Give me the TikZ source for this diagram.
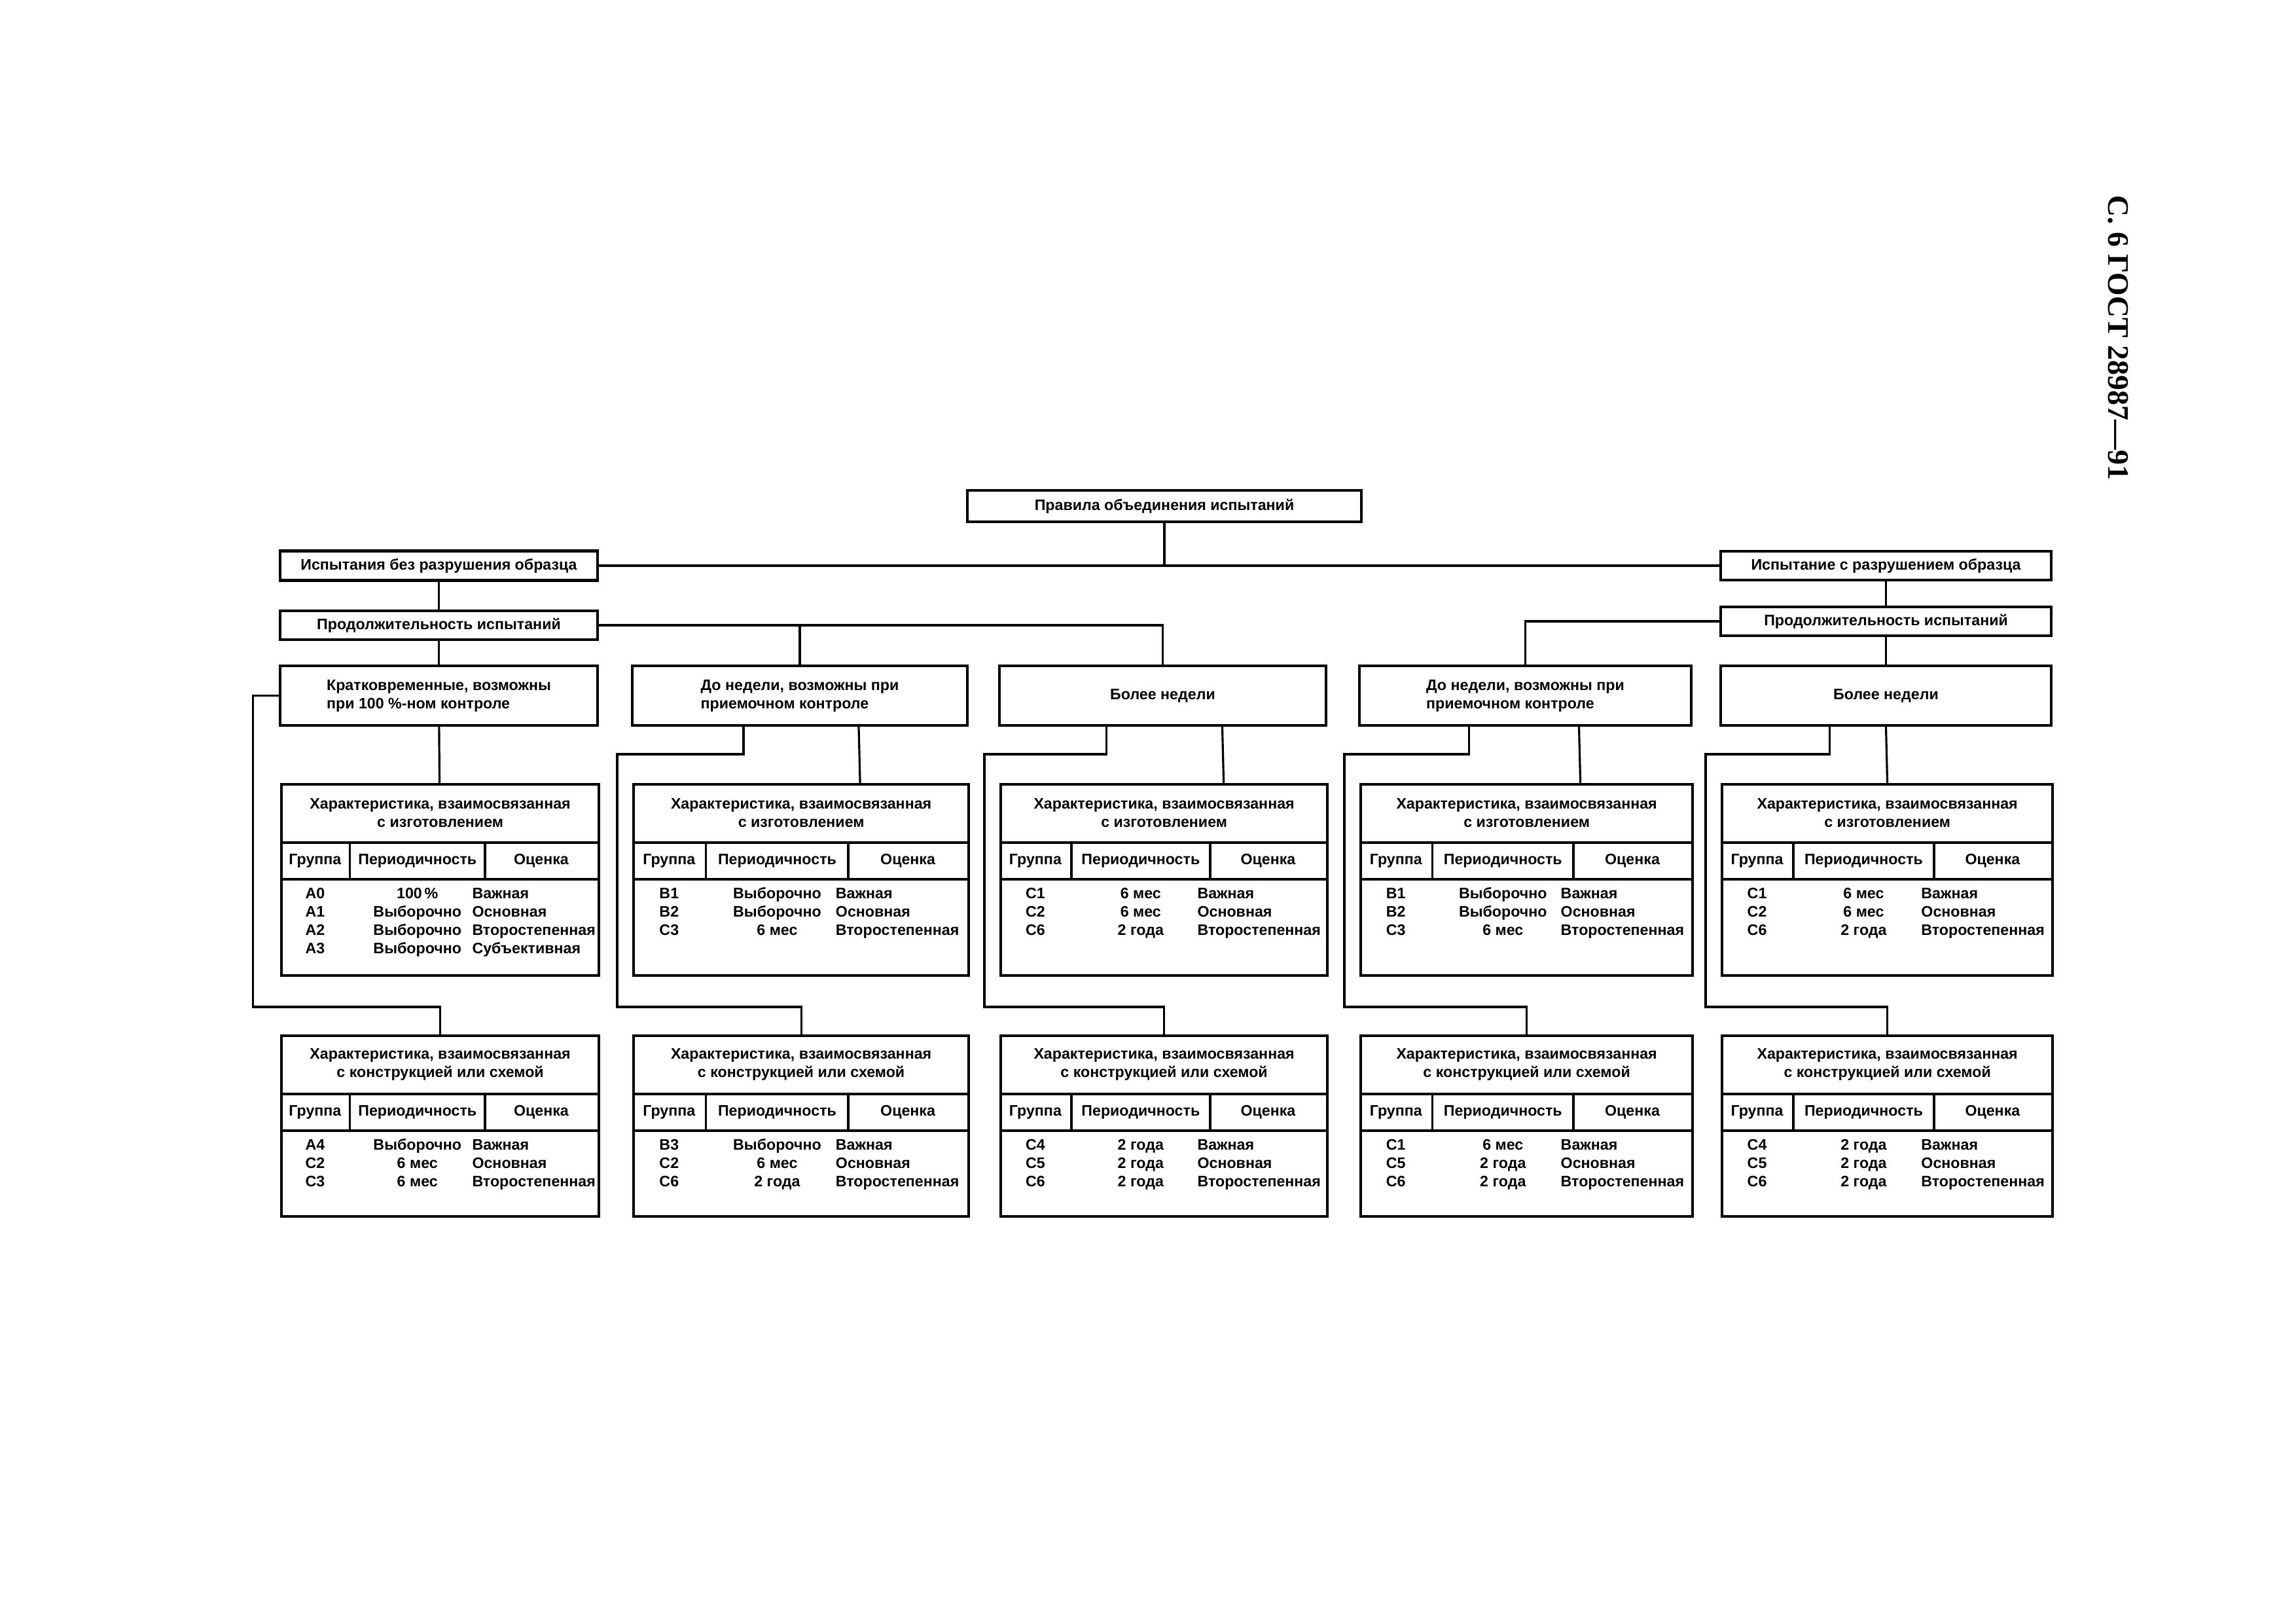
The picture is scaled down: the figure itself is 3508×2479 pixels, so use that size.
\documentclass[tikz,border=0pt]{standalone}
\usepackage{fontspec}
\setmainfont{Liberation Sans}
\newfontfamily\gostserif{Liberation Serif}
\usepackage{tikz}
\usetikzlibrary{positioning,calc}

\tikzset{
    box/.style={draw,line width=1.2pt,inner sep=0pt,align=center,font=\bfseries\fontsize{6.6}{8}\selectfont},
    cell/.style={inner sep=0pt,text height=4.8pt,text depth=1.4pt,font=\bfseries\fontsize{6.6}{8}\selectfont},
    link/.style={line width=0.9pt},
}

% table: name, left, top, width, height, second title line, rows
\newcommand{\chartab}[7]{%
    \node[box,anchor=north west,minimum width=#4*0.01cm,minimum height=#5*0.01cm] (#1) at (#2,#3) {};
    \draw[line width=1.2pt] ($(#1.north west)+(0,91)$) -- ($(#1.north east)+(0,91)$)
        ($(#1.north west)+(0,147)$) -- ($(#1.north east)+(0,147)$);
    \draw[line width=1pt] ($(#1.north west)+(0.22*#4,91)$) -- ++(0,56)
        ($(#1.north west)+(0.645*#4,91)$) -- ++(0,56);
    \node[box,draw=none] (#1-title) at ($(#1.north)+(0,46)$) {Характеристика, взаимосвязанная\\#6};
    \node[cell] (#1-grp) at ($(#1.north west)+(0.11*#4,119)$) {Группа};
    \node[cell] (#1-per) at ($(#1.north west)+(0.4325*#4,119)$) {Периодичность};
    \node[cell] (#1-est) at ($(#1.north west)+(0.8225*#4,119)$) {Оценка};
    \foreach \g/\p/\o [count=\r] in {#7}{
        \pgfmathsetmacro{\yy}{171+(\r-1)*28}
        \node[cell] (#1-g\r) at ($(#1.north west)+(0.11*#4,\yy)$) {\g};
        \node[cell] (#1-p\r) at ($(#1.north west)+(0.4325*#4,\yy)$) {\p};
        \node[cell,anchor=west] (#1-o\r) at ($(#1.north west)+(0.645*#4-20,\yy)$) {\o};
    }
}

\begin{document}
\begin{tikzpicture}[x=0.01cm,y=-0.01cm]
\path[fill=white] (0,0) rectangle (3508,2479);
\useasboundingbox (0,0) rectangle (3508,2479);
\node[rotate=-90,inner sep=0pt,font=\gostserif\bfseries\fontsize{13}{15}\selectfont] (gost) at (3236,516) {С. 6 ГОСТ 28987—91};

\node[box,minimum width=6.02cm,minimum height=0.48cm] (rules) at (1779,773) {Правила объединения испытаний};
\node[box,minimum width=4.85cm,minimum height=0.45cm] (nondestr) at (670.5,864) {Испытания без разрушения образца};
\node[box,minimum width=5.05cm,minimum height=0.44cm] (destr) at (2881.5,864) {Испытание с разрушением образца};
\node[box,minimum width=4.85cm,minimum height=0.44cm] (durL) at (670.5,955) {Продолжительность испытаний};
\node[box,minimum width=5.05cm,minimum height=0.44cm] (durR) at (2881.5,949) {Продолжительность испытаний};

\node[box,align=left,minimum width=4.85cm,minimum height=0.91cm] (k1) at (670.5,1062.5) {Кратковременные, возможны\\при 100 \%-ном контроле};
\node[box,align=left,minimum width=5.12cm,minimum height=0.91cm] (k2) at (1222,1062.5) {До недели, возможны при\\приемочном контроле};
\node[box,minimum width=4.99cm,minimum height=0.91cm] (k3) at (1776.5,1062.5) {Более недели};
\node[box,align=left,minimum width=5.07cm,minimum height=0.91cm] (k4) at (2330.5,1062.5) {До недели, возможны при\\приемочном контроле};
\node[box,minimum width=5.05cm,minimum height=0.91cm] (k5) at (2881.5,1062.5) {Более недели};

\chartab{t1}{428}{1196}{485}{292}{с изготовлением}{A0/100\,\%/Важная,A1/Выборочно/Основная,A2/Выборочно/Второстепенная,A3/Выборочно/Субъективная}
\chartab{t2}{966}{1196}{512}{292}{с изготовлением}{B1/Выборочно/Важная,B2/Выборочно/Основная,C3/6 мес/Второстепенная}
\chartab{t3}{1527}{1196}{499}{292}{с изготовлением}{C1/6 мес/Важная,C2/6 мес/Основная,C6/2 года/Второстепенная}
\chartab{t4}{2077}{1196}{507}{292}{с изготовлением}{B1/Выборочно/Важная,B2/Выборочно/Основная,C3/6 мес/Второстепенная}
\chartab{t5}{2629}{1196}{505}{292}{с изготовлением}{C1/6 мес/Важная,C2/6 мес/Основная,C6/2 года/Второстепенная}

\chartab{c1}{428}{1580}{485}{276}{с конструкцией или схемой}{A4/Выборочно/Важная,C2/6 мес/Основная,C3/6 мес/Второстепенная}
\chartab{c2}{966}{1580}{512}{276}{с конструкцией или схемой}{B3/Выборочно/Важная,C2/6 мес/Основная,C6/2 года/Второстепенная}
\chartab{c3}{1527}{1580}{499}{276}{с конструкцией или схемой}{C4/2 года/Важная,C5/2 года/Основная,C6/2 года/Второстепенная}
\chartab{c4}{2077}{1580}{507}{276}{с конструкцией или схемой}{C1/6 мес/Важная,C5/2 года/Основная,C6/2 года/Второстепенная}
\chartab{c5}{2629}{1580}{505}{276}{с конструкцией или схемой}{C4/2 года/Важная,C5/2 года/Основная,C6/2 года/Второстепенная}

\draw[link] (rules) -- (rules |- nondestr);
\draw[link] (nondestr) -- (destr);
\draw[link] (nondestr) -- (durL);
\draw[link] (destr) -- (durR);
\draw[link] (durL) -- (k1);
\draw[link] (durR) -- (k5);
\draw[link] (durL.east) -| (k3.north);
\draw[link] (durL.east -| k2.north) -- (k2.north);
\draw[link] (durR.west) -| (k4.north);

\draw[link] (k1) -- (t1);
\draw[link] (k1.west) -- ++(-39,0) |- ($(c1.north)+(0,-42)$) -- (c1.north);
\foreach \i/\d in {2/90,3/91,4/82,5/0}{
    \draw[link] ($(k\i.south)+(\d,0)$) -- ($(t\i.north)+(\d,0)$);
    \draw[link] ($(k\i.south)+(-86,0)$) |- ($(t\i.north west)+(-23,-44)$) |- ($(c\i.north)+(0,-42)$) -- (c\i.north);
}
\end{tikzpicture}
\end{document}
